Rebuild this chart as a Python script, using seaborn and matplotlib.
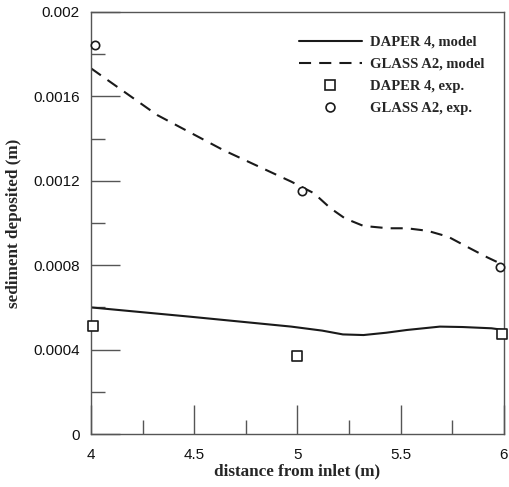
import numpy as np
import pandas as pd
import matplotlib
matplotlib.use("Agg")
import matplotlib.pyplot as plt
import seaborn as sns
from matplotlib.ticker import MultipleLocator, FixedFormatter, FixedLocator
from matplotlib.lines import Line2D

# Model curves: distance from inlet (m) and sediment deposited (m)
daper_model_x = [4.00, 4.48, 4.97, 5.12, 5.22, 5.32, 5.43, 5.53, 5.69, 5.80, 5.94, 6.00]
daper_model_y = [0.000600, 0.000556, 0.000509, 0.000490, 0.000472, 0.000469, 0.000480,
                 0.000493, 0.000509, 0.000507, 0.000501, 0.000493]

glass_model_x = [4.00, 4.32, 4.64, 4.97, 5.08, 5.16, 5.23, 5.32, 5.44, 5.53, 5.63,
                 5.73, 5.82, 5.92, 6.00]
glass_model_y = [0.001733, 0.001512, 0.001346, 0.001196, 0.001141, 0.001070, 0.001022,
                 0.000986, 0.000975, 0.000975, 0.000963, 0.000935, 0.000888, 0.000837,
                 0.000800]

# Experimental measurements
daper_exp_x = [4.01, 5.00, 5.99]
daper_exp_y = [0.000513, 0.000371, 0.000472]

glass_exp_x = [4.02, 5.02, 5.98]
glass_exp_y = [0.001844, 0.001152, 0.000790]

x_ticks = [4, 4.5, 5, 5.5, 6]
x_tick_labels = ["4", "4.5", "5", "5.5", "6"]
y_ticks = [0, 0.0004, 0.0008, 0.0012, 0.0016, 0.002]
y_tick_labels = ["0", "0.0004", "0.0008", "0.0012", "0.0016", "0.002"]

legend_labels = ["DAPER 4, model", "GLASS A2, model", "DAPER 4, exp.", "GLASS A2, exp."]

sns.set_style("ticks")
plt.rcParams["font.family"] = ["Liberation Sans", "DejaVu Sans"]

ink = "#1a1a1a"
dash = (0, (5.8, 3.9))

fig = plt.figure(figsize=(5.10, 4.87), dpi=100)
ax = fig.add_axes([0.1784, 0.1088, 0.8096, 0.8666])

sns.lineplot(x=daper_model_x, y=daper_model_y, ax=ax, color=ink, lw=1.5,
             sort=False, estimator=None)
sns.lineplot(x=glass_model_x, y=glass_model_y, ax=ax, color=ink, lw=1.5,
             sort=False, estimator=None, linestyle=dash)
sns.scatterplot(x=daper_exp_x, y=daper_exp_y, ax=ax, marker="s", s=56,
                facecolor="white", edgecolor=ink, linewidth=1.2, zorder=5,
                clip_on=False)
sns.scatterplot(x=glass_exp_x, y=glass_exp_y, ax=ax, marker="o", s=36,
                facecolor="white", edgecolor=ink, linewidth=1.2, zorder=5,
                clip_on=False)

ax.set_xlim(4, 6)
ax.set_ylim(0, 0.002)
ax.xaxis.set_major_locator(FixedLocator(x_ticks))
ax.xaxis.set_major_formatter(FixedFormatter(x_tick_labels))
ax.xaxis.set_minor_locator(MultipleLocator(0.25))
ax.yaxis.set_major_locator(FixedLocator(y_ticks))
ax.yaxis.set_major_formatter(FixedFormatter(y_tick_labels))
ax.yaxis.set_minor_locator(MultipleLocator(0.0002))

edge = "#555555"
for side in ["left", "right", "top", "bottom"]:
    ax.spines[side].set_visible(True)
    ax.spines[side].set_color(edge)
    ax.spines[side].set_linewidth(1.0)

ax.tick_params(which="both", direction="in", color=edge, width=1.0,
               labelsize=11, labelcolor="#111111")
ax.tick_params(which="major", length=21)
ax.tick_params(which="minor", length=10)
ax.tick_params(axis="y", which="major", pad=8)
ax.tick_params(axis="x", which="major", pad=10)

serif = ["Liberation Serif", "DejaVu Serif"]
ax.set_xlabel("distance from inlet (m)", family=serif, fontweight="bold",
              fontsize=12.3, labelpad=1)
ax.set_ylabel("sediment deposited (m)", family=serif, fontweight="bold",
              fontsize=12.3, labelpad=8)

handles = [
    Line2D([], [], color=ink, lw=1.5),
    Line2D([], [], color=ink, lw=1.5, linestyle=dash),
    Line2D([], [], color=ink, lw=0, marker="s", ms=7.4, mfc="white", mew=1.2),
    Line2D([], [], color=ink, lw=0, marker="o", ms=6.4, mfc="white", mew=1.2),
]
ax.legend(handles, legend_labels, loc="upper right", frameon=False,
          prop={"family": serif, "weight": "bold", "size": 10.5},
          handlelength=4.3, handletextpad=0.55, labelspacing=0.6,
          borderpad=0, borderaxespad=0,
          bbox_to_anchor=(0.952, 0.944))

fig.savefig("out.png", dpi=100)
